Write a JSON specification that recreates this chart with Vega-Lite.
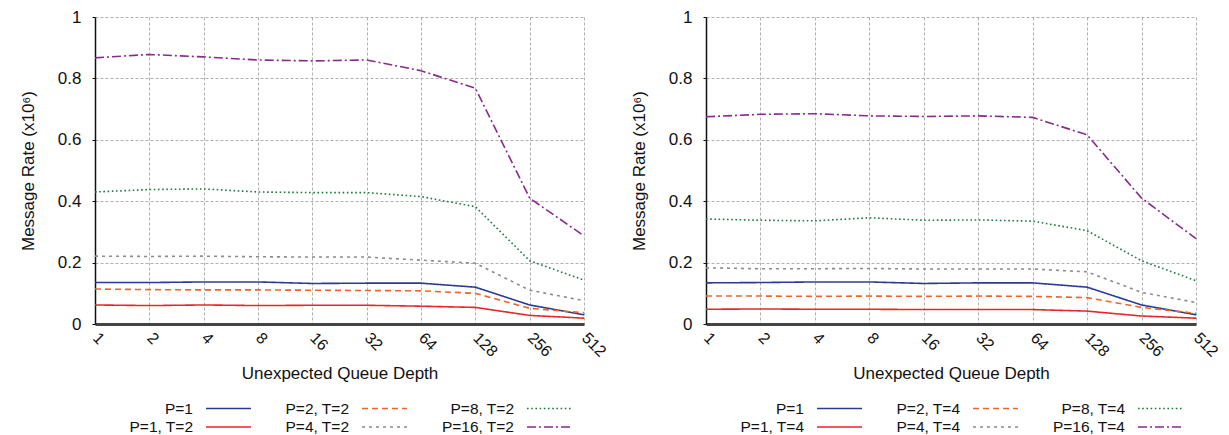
{
  "$schema": "https://vega.github.io/schema/vega-lite/v6.json",
  "padding": {"left": 19, "top": 8, "right": 10, "bottom": 0},
  "background": "white",
  "spacing": 21,
  "config": {
    "font": "Liberation Sans",
    "view": {"stroke": null},
    "axis": {
      "labelFont": "Liberation Sans",
      "titleFont": "Liberation Sans",
      "labelColor": "#111",
      "titleColor": "#111",
      "titleFontWeight": "normal",
      "gridColor": "#b0b0b0",
      "gridDash": [3, 2],
      "gridWidth": 1
    },
    "legend": {
      "labelFont": "Liberation Sans",
      "labelFontSize": 15.5,
      "labelColor": "#111"
    }
  },
  "datasets": {
    "t2": [
      {"depth": 1, "rate": 0.135, "series": "P=1"},
      {"depth": 2, "rate": 0.135, "series": "P=1"},
      {"depth": 4, "rate": 0.137, "series": "P=1"},
      {"depth": 8, "rate": 0.137, "series": "P=1"},
      {"depth": 16, "rate": 0.132, "series": "P=1"},
      {"depth": 32, "rate": 0.133, "series": "P=1"},
      {"depth": 64, "rate": 0.133, "series": "P=1"},
      {"depth": 128, "rate": 0.12, "series": "P=1"},
      {"depth": 256, "rate": 0.062, "series": "P=1"},
      {"depth": 512, "rate": 0.03, "series": "P=1"},
      {"depth": 1, "rate": 0.062, "series": "P=1, T=2"},
      {"depth": 2, "rate": 0.06, "series": "P=1, T=2"},
      {"depth": 4, "rate": 0.062, "series": "P=1, T=2"},
      {"depth": 8, "rate": 0.06, "series": "P=1, T=2"},
      {"depth": 16, "rate": 0.061, "series": "P=1, T=2"},
      {"depth": 32, "rate": 0.061, "series": "P=1, T=2"},
      {"depth": 64, "rate": 0.058, "series": "P=1, T=2"},
      {"depth": 128, "rate": 0.054, "series": "P=1, T=2"},
      {"depth": 256, "rate": 0.028, "series": "P=1, T=2"},
      {"depth": 512, "rate": 0.019, "series": "P=1, T=2"},
      {"depth": 1, "rate": 0.114, "series": "P=2, T=2"},
      {"depth": 2, "rate": 0.112, "series": "P=2, T=2"},
      {"depth": 4, "rate": 0.111, "series": "P=2, T=2"},
      {"depth": 8, "rate": 0.111, "series": "P=2, T=2"},
      {"depth": 16, "rate": 0.11, "series": "P=2, T=2"},
      {"depth": 32, "rate": 0.109, "series": "P=2, T=2"},
      {"depth": 64, "rate": 0.108, "series": "P=2, T=2"},
      {"depth": 128, "rate": 0.1, "series": "P=2, T=2"},
      {"depth": 256, "rate": 0.051, "series": "P=2, T=2"},
      {"depth": 512, "rate": 0.037, "series": "P=2, T=2"},
      {"depth": 1, "rate": 0.221, "series": "P=4, T=2"},
      {"depth": 2, "rate": 0.22, "series": "P=4, T=2"},
      {"depth": 4, "rate": 0.221, "series": "P=4, T=2"},
      {"depth": 8, "rate": 0.219, "series": "P=4, T=2"},
      {"depth": 16, "rate": 0.218, "series": "P=4, T=2"},
      {"depth": 32, "rate": 0.218, "series": "P=4, T=2"},
      {"depth": 64, "rate": 0.208, "series": "P=4, T=2"},
      {"depth": 128, "rate": 0.198, "series": "P=4, T=2"},
      {"depth": 256, "rate": 0.11, "series": "P=4, T=2"},
      {"depth": 512, "rate": 0.076, "series": "P=4, T=2"},
      {"depth": 1, "rate": 0.43, "series": "P=8, T=2"},
      {"depth": 2, "rate": 0.438, "series": "P=8, T=2"},
      {"depth": 4, "rate": 0.44, "series": "P=8, T=2"},
      {"depth": 8, "rate": 0.43, "series": "P=8, T=2"},
      {"depth": 16, "rate": 0.428, "series": "P=8, T=2"},
      {"depth": 32, "rate": 0.428, "series": "P=8, T=2"},
      {"depth": 64, "rate": 0.415, "series": "P=8, T=2"},
      {"depth": 128, "rate": 0.382, "series": "P=8, T=2"},
      {"depth": 256, "rate": 0.206, "series": "P=8, T=2"},
      {"depth": 512, "rate": 0.143, "series": "P=8, T=2"},
      {"depth": 1, "rate": 0.867, "series": "P=16, T=2"},
      {"depth": 2, "rate": 0.878, "series": "P=16, T=2"},
      {"depth": 4, "rate": 0.87, "series": "P=16, T=2"},
      {"depth": 8, "rate": 0.86, "series": "P=16, T=2"},
      {"depth": 16, "rate": 0.857, "series": "P=16, T=2"},
      {"depth": 32, "rate": 0.86, "series": "P=16, T=2"},
      {"depth": 64, "rate": 0.825, "series": "P=16, T=2"},
      {"depth": 128, "rate": 0.768, "series": "P=16, T=2"},
      {"depth": 256, "rate": 0.41, "series": "P=16, T=2"},
      {"depth": 512, "rate": 0.287, "series": "P=16, T=2"}
    ],
    "t4": [
      {"depth": 1, "rate": 0.134, "series": "P=1"},
      {"depth": 2, "rate": 0.135, "series": "P=1"},
      {"depth": 4, "rate": 0.137, "series": "P=1"},
      {"depth": 8, "rate": 0.137, "series": "P=1"},
      {"depth": 16, "rate": 0.132, "series": "P=1"},
      {"depth": 32, "rate": 0.134, "series": "P=1"},
      {"depth": 64, "rate": 0.134, "series": "P=1"},
      {"depth": 128, "rate": 0.12, "series": "P=1"},
      {"depth": 256, "rate": 0.062, "series": "P=1"},
      {"depth": 512, "rate": 0.03, "series": "P=1"},
      {"depth": 1, "rate": 0.048, "series": "P=1, T=4"},
      {"depth": 2, "rate": 0.049, "series": "P=1, T=4"},
      {"depth": 4, "rate": 0.048, "series": "P=1, T=4"},
      {"depth": 8, "rate": 0.048, "series": "P=1, T=4"},
      {"depth": 16, "rate": 0.047, "series": "P=1, T=4"},
      {"depth": 32, "rate": 0.047, "series": "P=1, T=4"},
      {"depth": 64, "rate": 0.047, "series": "P=1, T=4"},
      {"depth": 128, "rate": 0.042, "series": "P=1, T=4"},
      {"depth": 256, "rate": 0.026, "series": "P=1, T=4"},
      {"depth": 512, "rate": 0.019, "series": "P=1, T=4"},
      {"depth": 1, "rate": 0.091, "series": "P=2, T=4"},
      {"depth": 2, "rate": 0.091, "series": "P=2, T=4"},
      {"depth": 4, "rate": 0.09, "series": "P=2, T=4"},
      {"depth": 8, "rate": 0.091, "series": "P=2, T=4"},
      {"depth": 16, "rate": 0.09, "series": "P=2, T=4"},
      {"depth": 32, "rate": 0.091, "series": "P=2, T=4"},
      {"depth": 64, "rate": 0.09, "series": "P=2, T=4"},
      {"depth": 128, "rate": 0.086, "series": "P=2, T=4"},
      {"depth": 256, "rate": 0.054, "series": "P=2, T=4"},
      {"depth": 512, "rate": 0.035, "series": "P=2, T=4"},
      {"depth": 1, "rate": 0.183, "series": "P=4, T=4"},
      {"depth": 2, "rate": 0.18, "series": "P=4, T=4"},
      {"depth": 4, "rate": 0.18, "series": "P=4, T=4"},
      {"depth": 8, "rate": 0.181, "series": "P=4, T=4"},
      {"depth": 16, "rate": 0.179, "series": "P=4, T=4"},
      {"depth": 32, "rate": 0.179, "series": "P=4, T=4"},
      {"depth": 64, "rate": 0.179, "series": "P=4, T=4"},
      {"depth": 128, "rate": 0.17, "series": "P=4, T=4"},
      {"depth": 256, "rate": 0.103, "series": "P=4, T=4"},
      {"depth": 512, "rate": 0.07, "series": "P=4, T=4"},
      {"depth": 1, "rate": 0.342, "series": "P=8, T=4"},
      {"depth": 2, "rate": 0.338, "series": "P=8, T=4"},
      {"depth": 4, "rate": 0.336, "series": "P=8, T=4"},
      {"depth": 8, "rate": 0.346, "series": "P=8, T=4"},
      {"depth": 16, "rate": 0.338, "series": "P=8, T=4"},
      {"depth": 32, "rate": 0.339, "series": "P=8, T=4"},
      {"depth": 64, "rate": 0.335, "series": "P=8, T=4"},
      {"depth": 128, "rate": 0.304, "series": "P=8, T=4"},
      {"depth": 256, "rate": 0.206, "series": "P=8, T=4"},
      {"depth": 512, "rate": 0.141, "series": "P=8, T=4"},
      {"depth": 1, "rate": 0.675, "series": "P=16, T=4"},
      {"depth": 2, "rate": 0.683, "series": "P=16, T=4"},
      {"depth": 4, "rate": 0.685, "series": "P=16, T=4"},
      {"depth": 8, "rate": 0.678, "series": "P=16, T=4"},
      {"depth": 16, "rate": 0.676, "series": "P=16, T=4"},
      {"depth": 32, "rate": 0.678, "series": "P=16, T=4"},
      {"depth": 64, "rate": 0.673, "series": "P=16, T=4"},
      {"depth": 128, "rate": 0.616, "series": "P=16, T=4"},
      {"depth": 256, "rate": 0.41, "series": "P=16, T=4"},
      {"depth": 512, "rate": 0.278, "series": "P=16, T=4"}
    ]
  },
  "hconcat": [
    {
      "width": 489,
      "height": 307,
      "data": {"name": "t2"},
      "mark": {"type": "line", "strokeWidth": 1.6},
      "encoding": {
        "x": {
          "field": "depth", "type": "ordinal", "sort": "ascending",
          "scale": {"padding": 0},
          "axis": {
            "title": "Unexpected Queue Depth", "titleFontSize": 17, "titlePadding": 6,
            "labelAngle": 45, "labelAlign": "left", "labelBaseline": "middle",
            "labelFontSize": 16, "labelPadding": 11, "ticks": false,
            "domainColor": "#444", "domainWidth": 3, "grid": true
          }
        },
        "y": {
          "field": "rate", "type": "quantitative",
          "scale": {"domain": [0, 1], "nice": false},
          "axis": {
            "title": "Message Rate (x10⁶)", "titleFontSize": 17, "titlePadding": 20,
            "values": [0, 0.2, 0.4, 0.6, 0.8, 1], "format": "~g",
            "labelFontSize": 17, "labelPadding": 11, "tickSize": 3, "tickColor": "#111",
            "domainColor": "#111", "domainWidth": 1.5, "grid": true
          }
        },
        "color": {
          "field": "series", "type": "nominal",
          "scale": {
            "domain": ["P=1", "P=1, T=2", "P=2, T=2", "P=4, T=2", "P=8, T=2", "P=16, T=2"],
            "range": ["#2c3b92", "#e8262b", "#f0642c", "#8c8c8c", "#1f7a3e", "#8a2a8c"]
          },
          "legend": {
            "title": null, "orient": "none", "legendX": 110, "legendY": 383, "columns": 3,
            "symbolType": "M-3,0L3,0", "symbolSize": 225, "symbolStrokeWidth": 1.6, "symbolOffset": 15,
            "labelAlign": "right", "labelOffset": -44, "columnPadding": 30, "rowPadding": 1.5
          }
        },
        "strokeDash": {
          "field": "series", "type": "nominal",
          "scale": {
            "domain": ["P=1", "P=1, T=2", "P=2, T=2", "P=4, T=2", "P=8, T=2", "P=16, T=2"],
            "range": [[1, 0], [1, 0], [6, 4], [3, 4], [1.6, 2.6], [9, 3, 2, 3]]
          },
          "legend": {
            "title": null, "orient": "none", "legendX": 110, "legendY": 383, "columns": 3,
            "symbolType": "M-3,0L3,0", "symbolSize": 225, "symbolStrokeWidth": 1.6, "symbolOffset": 15,
            "labelAlign": "right", "labelOffset": -44, "columnPadding": 30, "rowPadding": 1.5
          }
        }
      }
    },
    {
      "width": 490,
      "height": 307,
      "data": {"name": "t4"},
      "mark": {"type": "line", "strokeWidth": 1.6},
      "encoding": {
        "x": {
          "field": "depth", "type": "ordinal", "sort": "ascending",
          "scale": {"padding": 0},
          "axis": {
            "title": "Unexpected Queue Depth", "titleFontSize": 17, "titlePadding": 6,
            "labelAngle": 45, "labelAlign": "left", "labelBaseline": "middle",
            "labelFontSize": 16, "labelPadding": 11, "ticks": false,
            "domainColor": "#444", "domainWidth": 3, "grid": true
          }
        },
        "y": {
          "field": "rate", "type": "quantitative",
          "scale": {"domain": [0, 1], "nice": false},
          "axis": {
            "title": "Message Rate (x10⁶)", "titleFontSize": 17, "titlePadding": 20,
            "values": [0, 0.2, 0.4, 0.6, 0.8, 1], "format": "~g",
            "labelFontSize": 17, "labelPadding": 11, "tickSize": 3, "tickColor": "#111",
            "domainColor": "#111", "domainWidth": 1.5, "grid": true
          }
        },
        "color": {
          "field": "series", "type": "nominal",
          "scale": {
            "domain": ["P=1", "P=1, T=4", "P=2, T=4", "P=4, T=4", "P=8, T=4", "P=16, T=4"],
            "range": ["#2c3b92", "#e8262b", "#f0642c", "#8c8c8c", "#1f7a3e", "#8a2a8c"]
          },
          "legend": {
            "title": null, "orient": "none", "legendX": 110, "legendY": 383, "columns": 3,
            "symbolType": "M-3,0L3,0", "symbolSize": 225, "symbolStrokeWidth": 1.6, "symbolOffset": 15,
            "labelAlign": "right", "labelOffset": -44, "columnPadding": 30, "rowPadding": 1.5
          }
        },
        "strokeDash": {
          "field": "series", "type": "nominal",
          "scale": {
            "domain": ["P=1", "P=1, T=4", "P=2, T=4", "P=4, T=4", "P=8, T=4", "P=16, T=4"],
            "range": [[1, 0], [1, 0], [6, 4], [3, 4], [1.6, 2.6], [9, 3, 2, 3]]
          },
          "legend": {
            "title": null, "orient": "none", "legendX": 110, "legendY": 383, "columns": 3,
            "symbolType": "M-3,0L3,0", "symbolSize": 225, "symbolStrokeWidth": 1.6, "symbolOffset": 15,
            "labelAlign": "right", "labelOffset": -44, "columnPadding": 30, "rowPadding": 1.5
          }
        }
      }
    }
  ],
  "resolve": {"scale": {"color": "independent", "strokeDash": "independent"}, "legend": {"color": "independent", "strokeDash": "independent"}}
}
